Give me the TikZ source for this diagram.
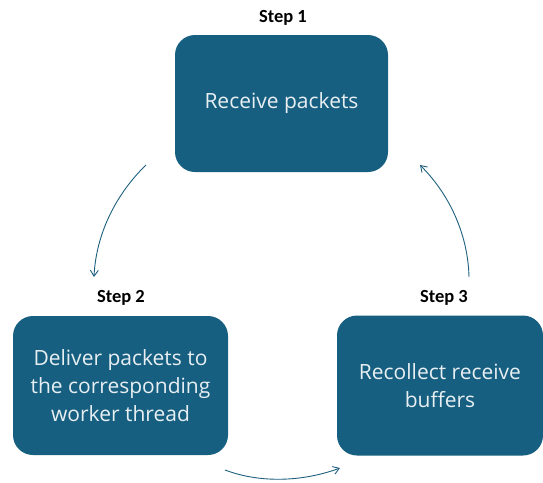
\documentclass[tikz,border=0pt]{standalone}
\usepackage{fontspec}
\setmainfont{Carlito}
\newfontfamily\boxfont{Open Sans}
\usetikzlibrary{arrows.meta}
\definecolor{boxblue}{HTML}{175F80}
\definecolor{boxtext}{HTML}{E8EFF3}
\definecolor{arrowblue}{HTML}{1D5F7E}
\tikzset{
  stepbox/.style={draw=none, fill=boxblue, rounded corners=20pt, align=center,
    text=boxtext, font=\boxfont\fontsize{21}{28}\selectfont, inner sep=0pt},
  steplabel/.style={font=\bfseries\fontsize{18.5}{20}\selectfont, text=black, inner sep=0pt},
  cyc/.style={draw=arrowblue, line width=0.9pt, -{Straight Barb[length=6pt,width=8pt]}}
}
\begin{document}
\begin{tikzpicture}[x=1pt,y=-1pt]
\useasboundingbox (0,0) rectangle (543,482);
\node[stepbox, minimum width=213pt, minimum height=137pt] (b1) at (281.5,103.5) {Receive packets};
\node[stepbox, minimum width=215pt, minimum height=139pt] (b2) at (120.5,385.5) {Deliver packets to\\the corresponding\\worker thread};
\node[stepbox, minimum width=206pt, minimum height=140pt] (b3) at (440,385.5) {Recollect receive\\buffers};
\node[steplabel] (l1) at (283,18) {Step 1};
\node[steplabel] (l2) at (121,298) {Step 2};
\node[steplabel] (l3) at (444,298) {Step 3};
\coordinate (a1s) at (146,165);
\coordinate (a1e) at (94,277);
\coordinate (a2s) at (225,470);
\coordinate (a2e) at (340,468);
\coordinate (a3s) at (469,277);
\coordinate (a3e) at (420,165);
\draw[cyc] (a1s) .. controls (115,195) and (96,235) .. (a1e);
\draw[cyc] (a2s) .. controls (262,484) and (305,481) .. (a2e);
\draw[cyc] (a3s) .. controls (468,235) and (450,195) .. (a3e);
\end{tikzpicture}
\end{document}
